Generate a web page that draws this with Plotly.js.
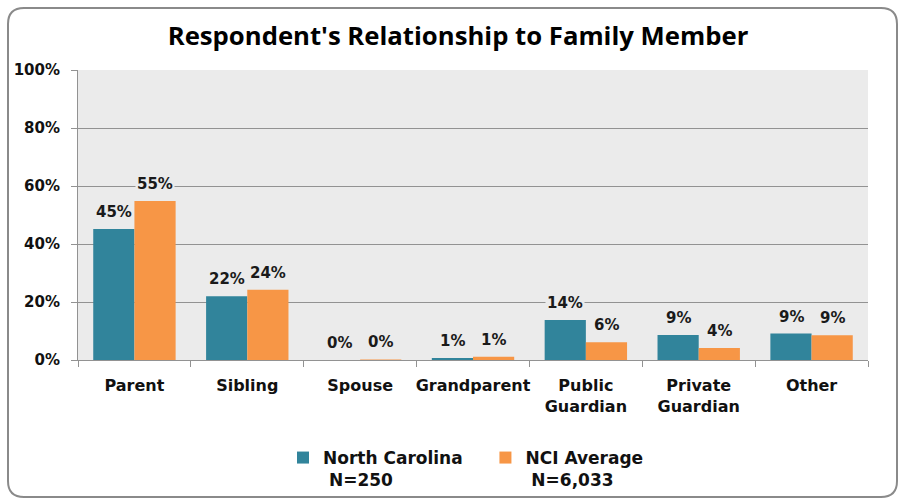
<!DOCTYPE html>
<html>
<head>
<meta charset="utf-8">
<script src="https://cdn.plot.ly/plotly-3.0.1.min.js"></script>
<style>
  html, body { margin: 0; padding: 0; background: #ffffff; }
  #chart { width: 900px; height: 500px; }
</style>
</head>
<body>
<div id="chart"></div>
<script>
// ---- Data ----
const categories = ["Parent", "Sibling", "Spouse", "Grandparent", "Public<br>Guardian", "Private<br>Guardian", "Other"];
const ncValues   = [45.2, 22.0, 0.0, 0.7, 13.8, 8.6, 9.1];
const nciValues  = [54.8, 24.2, 0.2, 1.1, 6.1, 4.1, 8.5];
const ncLabels   = ["45%", "22%", "0%", "1%", "14%", "9%", "9%"];
const nciLabels  = ["55%", "24%", "0%", "1%", "6%", "4%", "9%"];
const seriesNames = ["North Carolina&nbsp;&nbsp;&nbsp;<br>&nbsp;N=250", "NCI Average<br>&nbsp;N=6,033"];
const yTickVals  = [0, 20, 40, 60, 80, 100];
const yTickText  = ["0%", "20%", "40%", "60%", "80%", "100%"];

// ---- Style ----
const TEAL = "#31849B", ORANGE = "#F79646", PLOTBG = "#EBEBEB", GRID = "#929292";
const M = { l: 78, r: 32, t: 70, b: 140 };
const W = 900, H = 500;
const PW = W - M.l - M.r, PH = H - M.t - M.b;
const px = x => (x - M.l) / PW;
const py = y => (H - M.b - y) / PH;

// Rounded border (pixel coords -> paper coords)
function roundedRect(x0, y0, x1, y1, r) {
  const P = (x, y) => px(x) + "," + py(y);
  return "M" + P(x0 + r, y0) + " L" + P(x1 - r, y0) + " Q" + P(x1, y0) + " " + P(x1, y0 + r) +
         " L" + P(x1, y1 - r) + " Q" + P(x1, y1) + " " + P(x1 - r, y1) +
         " L" + P(x0 + r, y1) + " Q" + P(x0, y1) + " " + P(x0, y1 - r) +
         " L" + P(x0, y0 + r) + " Q" + P(x0, y0) + " " + P(x0 + r, y0) + " Z";
}

const FONT = "DejaVu Sans, Verdana, sans-serif";

const traces = [
  { type: "bar", name: seriesNames[0], x: categories, y: ncValues,
    marker: { color: TEAL }, hoverinfo: "skip" },
  { type: "bar", name: seriesNames[1], x: categories, y: nciValues,
    marker: { color: ORANGE }, hoverinfo: "skip" }
];

const annotations = [];
const SHIFT = 20.5;
categories.forEach((c, i) => {
  annotations.push({ x: c, y: ncValues[i], xref: "x", yref: "y", text: ncLabels[i],
    showarrow: false, xshift: -SHIFT, yshift: 17, yanchor: "middle",
    bgcolor: PLOTBG, borderpad: 1,
    font: { family: FONT, size: 15, color: "#1a1a1a", weight: "bold" } });
  annotations.push({ x: c, y: nciValues[i], xref: "x", yref: "y", text: nciLabels[i],
    showarrow: false, xshift: SHIFT, yshift: 17, yanchor: "middle",
    bgcolor: PLOTBG, borderpad: 1,
    font: { family: FONT, size: 15, color: "#1a1a1a", weight: "bold" } });
});

const layout = {
  width: W, height: H,
  margin: Object.assign({ autoexpand: false }, M),
  paper_bgcolor: "#ffffff",
  plot_bgcolor: PLOTBG,
  barmode: "group",
  bargap: 0.27,
  bargroupgap: 0,
  title: {
    text: "Respondent's Relationship to Family Member",
    font: { family: "Open Sans, sans-serif", size: 25.7, color: "#000000", weight: "bold" },
    xref: "paper", x: px(458), xanchor: "center",
    yref: "container", y: 1 - 36 / H, yanchor: "middle"
  },
  xaxis: {
    type: "category",
    automargin: false,
    tickangle: 0,
    showline: true, linecolor: GRID, linewidth: 1,
    ticks: "outside", tickson: "boundaries", ticklen: 6, tickcolor: GRID,
    ticklabelstandoff: 11,
    tickfont: { family: FONT, size: 16, color: "#111111", weight: "bold" },
    showgrid: false, fixedrange: true
  },
  yaxis: {
    automargin: false,
    range: [0, 100],
    tickvals: yTickVals, ticktext: yTickText,
    showline: true, linecolor: GRID, linewidth: 1,
    ticks: "outside", ticklen: 6, tickcolor: GRID,
    ticklabelstandoff: 8,
    showgrid: true, gridcolor: GRID, gridwidth: 1,
    zeroline: false,
    tickfont: { family: FONT, size: 15, color: "#111111", weight: "bold" },
    fixedrange: true
  },
  showlegend: true,
  legend: {
    orientation: "h",
    x: px(466), xanchor: "center",
    y: py(440), yanchor: "top",
    valign: "top",
    font: { family: FONT, size: 17, color: "#111111", weight: "bold" },
    itemwidth: 30,
    tracegroupgap: 0,
    bgcolor: "rgba(0,0,0,0)"
  },
  annotations: annotations,
  shapes: [{
    type: "path", xref: "paper", yref: "paper", layer: "above",
    path: roundedRect(8, 8, 897, 497, 16),
    line: { color: "#8a8a8a", width: 2 }, fillcolor: "rgba(0,0,0,0)"
  }]
};

Plotly.newPlot("chart", traces, layout, { displayModeBar: false, staticPlot: true });
</script>
</body>
</html>
